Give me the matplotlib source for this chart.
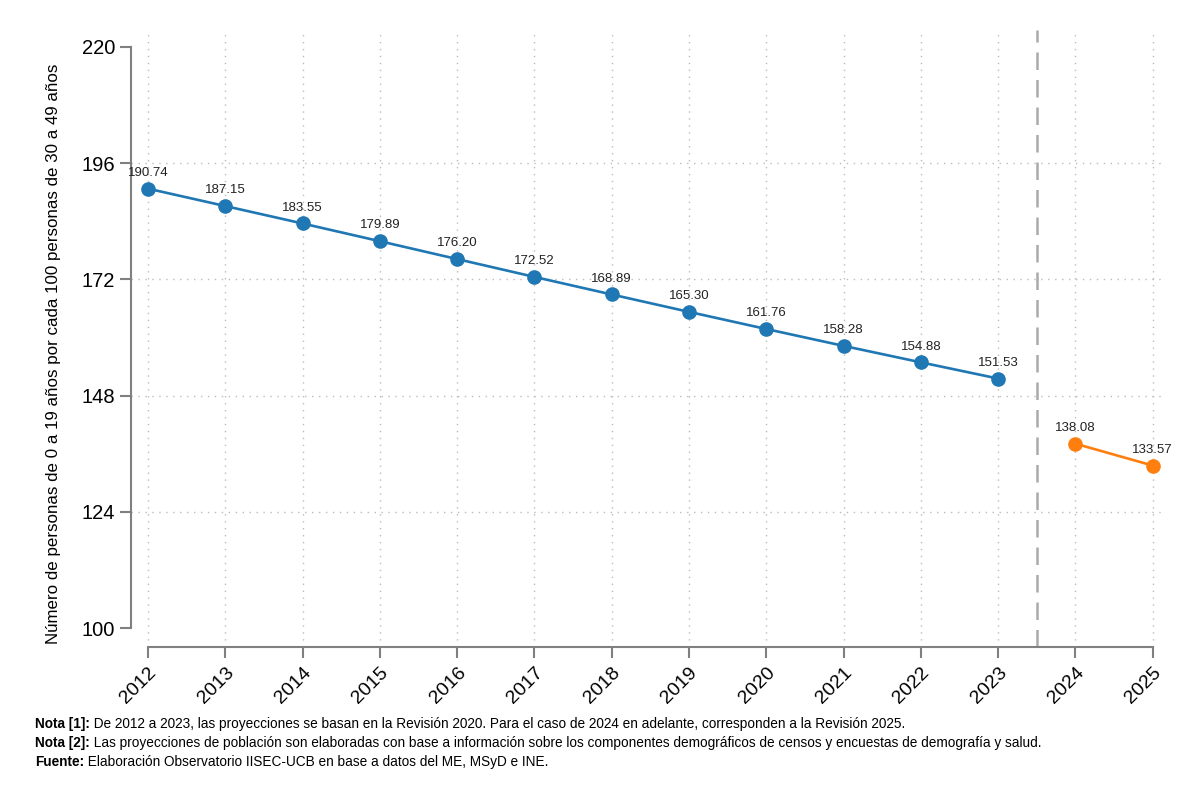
import matplotlib
matplotlib.use("Agg")
import matplotlib.pyplot as plt
from matplotlib import font_manager

years_a = [2012, 2013, 2014, 2015, 2016, 2017, 2018, 2019, 2020, 2021, 2022, 2023]
vals_a = [190.74, 187.15, 183.55, 179.89, 176.20, 172.52, 168.89, 165.30, 161.76, 158.28, 154.88, 151.53]
years_b = [2024, 2025]
vals_b = [138.08, 133.57]
yticks = [100, 124, 148, 172, 196, 220]
ylabel = "Número de personas de 0 a 19 años por cada 100 personas de 30 a 49 años"
notes = [
    ("Nota [1]:", " De 2012 a 2023, las proyecciones se basan en la Revisión 2020. Para el caso de 2024 en adelante, corresponden a la Revisión 2025."),
    ("Nota [2]:", " Las proyecciones de población son elaboradas con base a información sobre los componentes demográficos de censos y encuestas de demografía y salud."),
    ("Fuente:", " Elaboración Observatorio IISEC-UCB en base a datos del ME, MSyD e INE."),
]

names = {f.name for f in font_manager.fontManager.ttflist}
fam = "Liberation Sans Narrow" if "Liberation Sans Narrow" in names else "Liberation Sans"
plt.rcParams['font.family'] = [fam, 'DejaVu Sans']

W, H = 1200, 801
fig = plt.figure(figsize=(12, 8.01), dpi=100)
ax = fig.add_axes([131 / W, 1 - 647 / H, (1165 - 131) / W, (647 - 30) / H])

blue = "#1f77b4"
orange = "#ff7f0e"
ax.plot(years_a, vals_a, color=blue, lw=1.9, marker="o", ms=9.5, zorder=3)
ax.plot(years_b, vals_b, color=orange, lw=1.9, marker="o", ms=9.5, zorder=3)
for x, y in list(zip(years_a, vals_a)) + list(zip(years_b, vals_b)):
    ax.annotate(f"{y:.2f}", (x, y), xytext=(0, 7), textcoords="offset points",
                ha="center", va="bottom", fontsize=9.5, color="#222222")

ax.axvline(2023.5, color="#aaaaaa", lw=1.8, ls=(0, (7, 4)), zorder=1)

ax.set_xlim(2011.78, 2025.16)
ax.set_ylim(96.1, 223.5)
ax.set_xticks(years_a + years_b)
ax.set_xticklabels([str(y) for y in years_a + years_b], rotation=45, ha="right",
                   rotation_mode="anchor", fontsize=14)
ax.set_yticks(yticks)
ax.set_yticklabels([str(t) for t in yticks], fontsize=14.5)

for s in ["top", "right"]:
    ax.spines[s].set_visible(False)
for s in ["left", "bottom"]:
    ax.spines[s].set_color("#808080")
    ax.spines[s].set_linewidth(1.5)
ax.spines["left"].set_bounds(100, 220)
ax.spines["bottom"].set_bounds(2012, 2025)
ax.tick_params(axis="both", colors="#808080", width=1.5, length=8, labelcolor="black")
ax.tick_params(axis="x", pad=4)

# grid
for x in years_a + years_b:
    ax.axvline(x, color="#bbbbbb", lw=1, ls=(0, (1, 4)), zorder=0)
for y in yticks[1:-1]:
    ax.axhline(y, color="#bbbbbb", lw=1, ls=(0, (1, 4)), zorder=0)

ax.set_ylabel(ylabel, fontsize=12.2)
ax.yaxis.set_label_coords(-0.068, 0.475)

fig.canvas.draw()
r = fig.canvas.get_renderer()
for i, (b, t) in enumerate(notes):
    yy = 1 - (724 + 19 * i) / H
    tb = fig.text(35 / W, yy, b, fontsize=9.8, fontweight="bold", va="center", ha="left")
    bb = tb.get_window_extent(renderer=r)
    fig.text(bb.x1 / W, yy, t, fontsize=9.8, va="center", ha="left")

fig.savefig("out.png", dpi=100, facecolor="white")
